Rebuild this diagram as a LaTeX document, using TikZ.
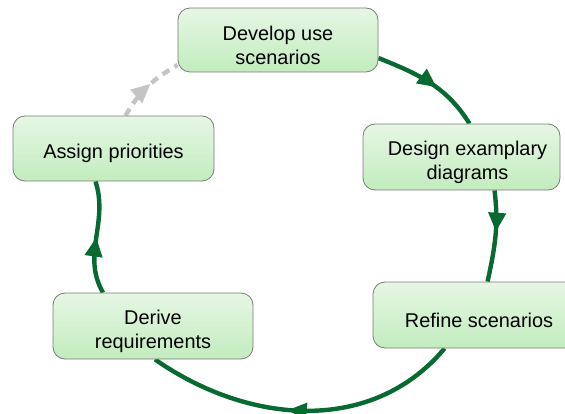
\documentclass[tikz,border=0pt]{standalone}
\usepackage{fontspec}
\setmainfont{Liberation Sans}
\usetikzlibrary{arrows.meta,decorations.markings,backgrounds}
\definecolor{cycgreen}{HTML}{076A30}
\definecolor{boxtop}{HTML}{E6F7E4}
\definecolor{boxbot}{HTML}{C2ECBE}
\definecolor{boxline}{HTML}{7A7A7A}
\definecolor{skipgray}{HTML}{C4C4C4}
\begin{document}
\begin{tikzpicture}[x=1pt,y=1pt,
  stepbox/.style={draw=boxline, line width=0.8pt, rounded corners=12pt,
    top color=boxtop, bottom color=boxbot, inner sep=0pt},
  steptext/.style={align=center, inner sep=0pt, font=\fontsize{19.9}{23.8}\selectfont},
  cyc/.style={draw=cycgreen, line width=4.4pt,
    postaction={decorate, decoration={markings,
      mark=at position #1 with {\arrow[cycgreen]{Triangle[length=19pt,width=17pt]}}}}},
  cyc/.default=0.5,
  skip/.style={draw=skipgray, line width=4.4pt, dash pattern=on 8pt off 6pt,
    postaction={decorate, decoration={markings,
      mark=at position 0.55 with {\arrow[skipgray]{Triangle[length=19pt,width=17pt]}}}}}
]
\useasboundingbox (0,0) rectangle (565,-414);
\node[stepbox, minimum width=200pt, minimum height=64pt] (dev) at (278,-40) {};
\node[stepbox, minimum width=197pt, minimum height=66pt] (des) at (461.5,-157) {};
\node[stepbox, minimum width=212pt, minimum height=66pt] (ref) at (479,-315) {};
\node[stepbox, minimum width=200pt, minimum height=66pt] (der) at (153,-326) {};
\node[stepbox, minimum width=201pt, minimum height=65pt] (asg) at (113.5,-148.5) {};
\node[steptext] (devt) at ([yshift=-5pt]dev.center) {Develop use\\scenarios};
\node[steptext] (dest) at ([xshift=6pt,yshift=-5pt]des.center) {Design examplary\\diagrams};
\node[steptext] (reft) at ([yshift=-5pt]ref.center) {Refine scenarios};
\node[steptext] (dert) at ([yshift=-5pt]der.center) {Derive\\requirements};
\node[steptext] (asgt) at ([yshift=-5pt]asg.center) {Assign priorities};
\begin{scope}[on background layer]
\draw[cyc=0.57] ([yshift=-18pt]dev.east) to[out=-22,in=122] ([xshift=8pt]des.north);
\draw[cyc=0.45] ([xshift=33pt]des.south) to[out=-83,in=78] ([xshift=115pt]ref.north west);
\draw[cyc=0.55] ([xshift=72pt]ref.south west) to[out=-130,in=-35] ([xshift=2pt]der.south);
\draw[cyc=0.5] ([xshift=-50pt]der.north) to[out=120,in=-72] ([xshift=-18pt]asg.south);
\draw[skip] ([xshift=12pt]asg.north) to[out=60,in=-150] ([yshift=-25pt]dev.west);
\end{scope}
\end{tikzpicture}
\end{document}
